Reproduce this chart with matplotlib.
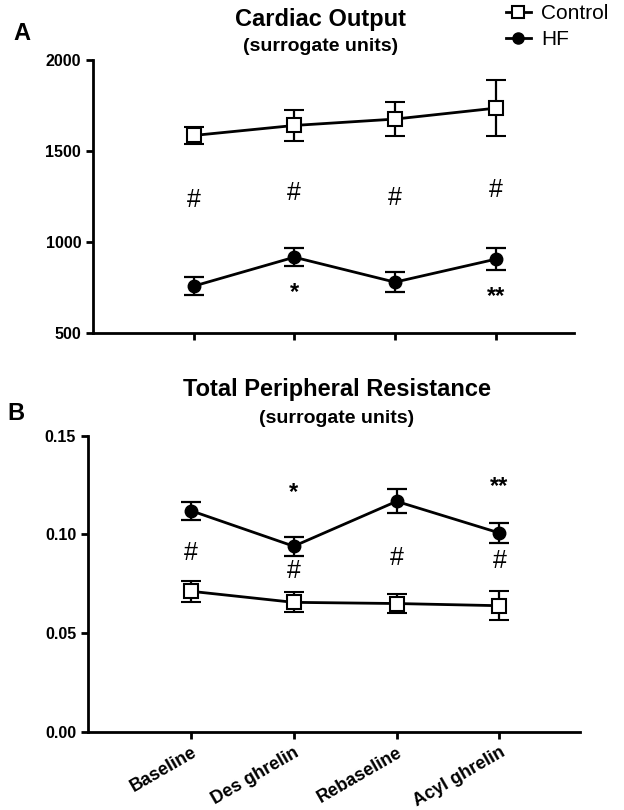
import matplotlib
matplotlib.use("Agg")
import matplotlib.pyplot as plt
from matplotlib.lines import Line2D

plt.rcParams['font.family'] = ['Liberation Sans', 'DejaVu Sans']

groups = ["Baseline", "Des ghrelin", "Rebaseline", "Acyl ghrelin"]
x = [1, 2, 3, 4]

# cardiac output (surrogate units)
co_ctrl = [1585, 1640, 1675, 1735]
co_ctrl_err = [45, 85, 95, 155]
co_hf = [757, 916, 779, 905]
co_hf_err = [50, 48, 55, 61]
co_hash = [1231, 1269, 1240, 1286]
co_star = [(2, 720, "*"), (4, 698, "**")]

# total peripheral resistance (surrogate units)
tpr_ctrl = [0.0712, 0.0656, 0.0650, 0.0639]
tpr_ctrl_err = [0.0052, 0.0050, 0.0050, 0.0073]
tpr_hf = [0.1120, 0.0940, 0.1167, 0.1007]
tpr_hf_err = [0.0045, 0.0047, 0.0060, 0.0050]
tpr_hash = [0.0906, 0.0813, 0.0881, 0.0864]
tpr_star = [(2, 0.1210, "*"), (4, 0.1243, "**")]

fig = plt.figure(figsize=(6.24, 8.10), dpi=100)
axA = fig.add_axes([0.149, 0.589, 0.771, 0.337])
axB = fig.add_axes([0.141, 0.0963, 0.788, 0.366])


def draw(ax, ctrl, ctrl_err, hf, hf_err):
    ax.errorbar(x, ctrl, yerr=ctrl_err, color='black', lw=2, marker='s', ms=10,
                mfc='white', mec='black', mew=1.5, capsize=7, capthick=1.6,
                elinewidth=1.6, zorder=3)
    ax.errorbar(x, hf, yerr=hf_err, color='black', lw=2, marker='o', ms=9,
                mfc='black', capsize=7, capthick=1.6, elinewidth=1.6, zorder=3)
    ax.set_xlim(0, 4.78)
    ax.spines['top'].set_visible(False)
    ax.spines['right'].set_visible(False)
    ax.spines['left'].set_linewidth(2)
    ax.spines['bottom'].set_linewidth(2)
    ax.tick_params(width=2, length=5, labelsize=11.5)


# A
draw(axA, co_ctrl, co_ctrl_err, co_hf, co_hf_err)
axA.set_ylim(500, 2000)
axA.set_yticks([500, 1000, 1500, 2000])
axA.set_yticklabels(['500', '1000', '1500', '2000'], fontweight='bold')
axA.set_xticks(x)
axA.set_xticklabels([])
for xi, yi in zip(x, co_hash):
    axA.text(xi, yi, "#", ha='center', va='center', fontsize=18)
for xi, yi, s in co_star:
    axA.text(xi, yi, s, ha='center', va='center', fontsize=17, fontweight='bold')
fig.text(0.513, 0.976, "Cardiac Output", ha='center', va='center',
         fontsize=17, fontweight='bold')
fig.text(0.513, 0.943, "(surrogate units)", ha='center', va='center',
         fontsize=14, fontweight='bold')
fig.text(0.022, 0.959, "A", ha='left', va='center', fontsize=17, fontweight='bold')

# B
draw(axB, tpr_ctrl, tpr_ctrl_err, tpr_hf, tpr_hf_err)
axB.set_ylim(0, 0.15)
axB.set_yticks([0, 0.05, 0.10, 0.15])
axB.set_yticklabels(['0.00', '0.05', '0.10', '0.15'], fontweight='bold')
axB.set_xticks(x)
axB.set_xticklabels(groups, rotation=30, ha='right', rotation_mode='anchor',
                    fontweight='bold', fontsize=13)
for xi, yi in zip(x, tpr_hash):
    axB.text(xi, yi, "#", ha='center', va='center', fontsize=18)
for xi, yi, s in tpr_star:
    axB.text(xi, yi, s, ha='center', va='center', fontsize=17, fontweight='bold')
fig.text(0.54, 0.519, "Total Peripheral Resistance", ha='center', va='center',
         fontsize=17, fontweight='bold')
fig.text(0.54, 0.483, "(surrogate units)", ha='center', va='center',
         fontsize=14, fontweight='bold')
fig.text(0.012, 0.49, "B", ha='left', va='center', fontsize=17, fontweight='bold')

handles = [
    Line2D([], [], color='black', lw=2, marker='s', ms=8, mfc='white', mew=1.5),
    Line2D([], [], color='black', lw=2, marker='o', ms=8, mfc='black'),
]
fig.legend(handles, ["Control", "HF"], loc='upper right',
           bbox_to_anchor=(1.005, 1.018), frameon=False, fontsize=15,
           handlelength=1.2, handletextpad=0.5, labelspacing=0.35)

fig.savefig("out.png", dpi=100)
